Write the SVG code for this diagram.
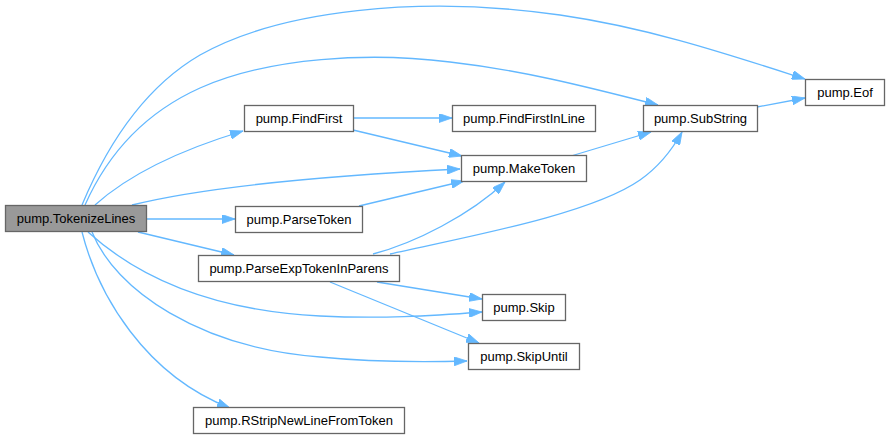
<svg xmlns="http://www.w3.org/2000/svg" width="888" height="439" viewBox="0 0 888 439">
<style>
.n rect{fill:#ffffff;stroke:#666666;stroke-width:1.3}
.n.root rect{fill:#999999}
.n text{font-family:"Liberation Sans",Arial,Helvetica,sans-serif;font-size:13px;fill:#000000;text-anchor:middle}
.e path{fill:none;stroke:#63b8ff;stroke-width:1.3;marker-end:url(#ah)}
</style>
<defs>
<marker id="ah" viewBox="0 0 13 9" refX="13" refY="4.5" markerWidth="13" markerHeight="9" markerUnits="userSpaceOnUse" orient="auto">
<path d="M0,0 L13,4.5 L0,9 z" fill="#63b8ff" stroke="#63b8ff" stroke-width="0.8"/>
</marker>
</defs>
<rect width="888" height="439" fill="#ffffff"/>
<g id="edges" class="e">
<path d="M82,205 C105,150 140,90 200,55 C280,10 420,-5 560,15 C650,28 730,55 805,79"/>
<path d="M85,205 C105,160 140,115 200,88 C270,57 370,52 450,62 C520,70 580,85 658,105"/>
<path d="M95,205 C125,178 170,153 243,131"/>
<path d="M132,205 C200,188 320,176 460,169"/>
<path d="M146,219 L235,219"/>
<path d="M138,232 L234,255"/>
<path d="M88,232 C130,270 200,310 320,316 C380,319 430,316 482,312"/>
<path d="M92,232 C115,290 200,348 320,357 C380,363 430,362 467,361"/>
<path d="M82,232 C98,295 145,375 230,408"/>
<path d="M353,118 L452,118"/>
<path d="M353,130 L462,156"/>
<path d="M359,206 L464,181"/>
<path d="M373,254 C415,243 470,215 505,182"/>
<path d="M390,254 C460,238 590,215 640,180 C660,166 672,150 682,132"/>
<path d="M571,156 L651,132"/>
<path d="M757,107 L805,98"/>
<path d="M377,282 L482,299"/>
<path d="M330,282 L479,343"/>
</g>
<g id="TokenizeLines" class="n root"><rect x="5.5" y="205.5" width="141" height="26"/><text x="76" y="223">pump.TokenizeLines</text></g>
<g id="FindFirst" class="n"><rect x="244.5" y="105.5" width="109" height="26"/><text x="299" y="123">pump.FindFirst</text></g>
<g id="FindFirstInLine" class="n"><rect x="452.5" y="105.5" width="143" height="26"/><text x="524" y="123">pump.FindFirstInLine</text></g>
<g id="MakeToken" class="n"><rect x="461.5" y="155.5" width="125" height="26"/><text x="524" y="173">pump.MakeToken</text></g>
<g id="ParseToken" class="n"><rect x="235.5" y="206.5" width="127" height="26"/><text x="299" y="224">pump.ParseToken</text></g>
<g id="ParseExpTokenInParens" class="n"><rect x="198.5" y="255.5" width="201" height="26"/><text x="299" y="273">pump.ParseExpTokenInParens</text></g>
<g id="SubString" class="n"><rect x="643.5" y="105.5" width="114" height="26"/><text x="700.5" y="123">pump.SubString</text></g>
<g id="Eof" class="n"><rect x="805.5" y="79.5" width="79" height="26"/><text x="845" y="97">pump.Eof</text></g>
<g id="Skip" class="n"><rect x="482.5" y="294.5" width="83" height="26"/><text x="524" y="312">pump.Skip</text></g>
<g id="SkipUntil" class="n"><rect x="468.5" y="343.5" width="111" height="26"/><text x="524" y="361">pump.SkipUntil</text></g>
<g id="RStripNewLineFromToken" class="n"><rect x="193.5" y="407.5" width="211" height="26"/><text x="299" y="425">pump.RStripNewLineFromToken</text></g>
</svg>
